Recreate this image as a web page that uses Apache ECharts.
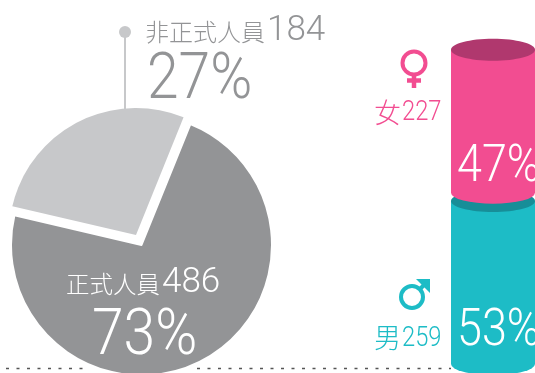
<!DOCTYPE html>
<html><head><meta charset="utf-8">
<style>html,body{margin:0;padding:0;background:#fff}#c{width:535px;height:373px}</style>
<script src="https://cdn.jsdelivr.net/npm/echarts@6/dist/echarts.min.js"></script>
</head><body><div id="c"></div>
<script>
const employmentNames = ['非正式人員', '正式人員'];
const employmentCounts = [184, 486];
const employmentPct = ['27%', '73%'];
const genderNames = ['男', '女'];
const genderCounts = [259, 227];
const genderPct = ['53%', '47%'];
const genderGap = 13;
const COL = {dark:'#939496', light:'#c7c8ca', pink:'#f24d91', pinkTop:'#b0386e', teal:'#1dbcc6', tealTop:'#178e98'};
const CJK = '"Noto Sans CJK TC"', LAT = 'Roboto';
function txt(s, x, y, size, fill, fam, sx){
  return {type:'text', z:20, x, y, scaleX:sx||1, style:{text:String(s), x:0, y:0, fill, textVerticalAlign:'middle',
    font:'300 '+size+'px '+fam}};
}
let acc = 0;
const starts = genderCounts.map(v=>{const s=acc; acc+=v+genderGap; return s;});
const cylData = genderCounts.map((v,i)=>[0, starts[i], starts[i]+v, i]);
const hidden = {color:'transparent'};
const pieBase = {type:'pie', startAngle:68, clockwise:false, silent:true, label:{show:false}, labelLine:{show:false}};
const chart = echarts.init(document.getElementById('c'), null, {renderer:'canvas'});
chart.setOption({
  animation:false,
  grid:{left:451, width:84, top:0, bottom:9},
  xAxis:{type:'category', data:['性別'], show:false},
  yAxis:{type:'value', min:0, max:578, show:false},
  series:[
    Object.assign({}, pieBase, {center:[141.5,245], radius:[0,130.5], data:[
      {name:employmentNames[0], value:employmentCounts[0], itemStyle:hidden},
      {name:employmentNames[1], value:employmentCounts[1], itemStyle:{color:COL.dark, borderColor:'#fff', borderWidth:2}}
    ]}),
    Object.assign({}, pieBase, {center:[136,235], radius:[0,127], data:[
      {name:employmentNames[0], value:employmentCounts[0], itemStyle:{color:COL.light}},
      {name:employmentNames[1], value:employmentCounts[1], itemStyle:hidden}
    ]}),
    {type:'custom', data:cylData, z:5, clip:false,
     renderItem(params, api){
       const i = api.value(3);
       const bottom = api.coord([0, api.value(1)]);
       const top = api.coord([0, api.value(2)]);
       const w = api.size([1,0])[0];
       const rx = w/2, cx = bottom[0], ry = 11;
       const yT = top[1], yB = bottom[1];
       const body = i===0?COL.teal:COL.pink, cap = i===0?COL.tealTop:COL.pinkTop;
       return {type:'group', children:[
         {type:'path', z2:i*10, shape:{pathData:`M${cx-rx} ${yT}L${cx-rx} ${yB}A${rx} ${ry} 0 0 0 ${cx+rx} ${yB}L${cx+rx} ${yT}Z`, layout:'cover', x:cx-rx, y:yT, width:2*rx, height:yB-yT+ry},
           style:{fill:body}},
         {type:'ellipse', z2:i*10+1, shape:{cx, cy:yT, rx, ry}, style:{fill:cap}}
       ]};
     }}
  ],
  graphic:[
    {type:'line', z:1, shape:{x1:6,y1:368.5,x2:85,y2:368.5}, style:{stroke:'#555', lineWidth:1.5, lineDash:[3,7.5]}},
    {type:'line', z:1, shape:{x1:197,y1:368.5,x2:451,y2:368.5}, style:{stroke:'#555', lineWidth:1.5, lineDash:[3,7.5]}},
    {type:'line', z:1, shape:{x1:125,y1:32,x2:125,y2:109}, style:{stroke:COL.light, lineWidth:2}},
    {type:'circle', z:1, shape:{cx:125,cy:32,r:6}, style:{fill:COL.light}},
    txt(employmentNames[0],145,32,24,COL.dark,CJK),
    txt(employmentCounts[0],267,31,35,COL.dark,LAT),
    txt(employmentPct[0],147,82,64,COL.dark,LAT,0.89),
    txt(employmentNames[1],66,284,23.5,'#fff',CJK),
    txt(employmentCounts[1],162,283,35,'#fff',LAT),
    txt(employmentPct[1],92,338,64,'#fff',LAT,0.89),
    txt(genderNames[1],374,113,27,COL.pink,CJK),
    txt(genderCounts[1],402,113,27,COL.pink,LAT,0.88),
    txt(genderPct[1],457,168,51,'#fff',LAT,0.88),
    txt(genderNames[0],374,338,27,COL.teal,CJK),
    txt(genderCounts[0],402,339,27,COL.teal,LAT,0.88),
    txt(genderPct[0],457,332,51,'#fff',LAT,0.88),
    {type:'circle', z:20, shape:{cx:414,cy:63,r:11.5}, style:{fill:'none',stroke:COL.pink,lineWidth:4}},
    {type:'line', z:20, shape:{x1:414,y1:75,x2:414,y2:88}, style:{stroke:COL.pink,lineWidth:4.5}},
    {type:'line', z:20, shape:{x1:407,y1:80.5,x2:421,y2:80.5}, style:{stroke:COL.pink,lineWidth:4.5}},
    {type:'circle', z:20, shape:{cx:412,cy:297,r:11}, style:{fill:'none',stroke:COL.teal,lineWidth:4}},
    {type:'line', z:20, shape:{x1:420,y1:289,x2:428,y2:281}, style:{stroke:COL.teal,lineWidth:4}},
    {type:'polygon', z:20, shape:{points:[[416,279],[430,279],[430,293],[426,289],[420,283]]}, style:{fill:COL.teal}}
  ]
});
</script></body></html>
